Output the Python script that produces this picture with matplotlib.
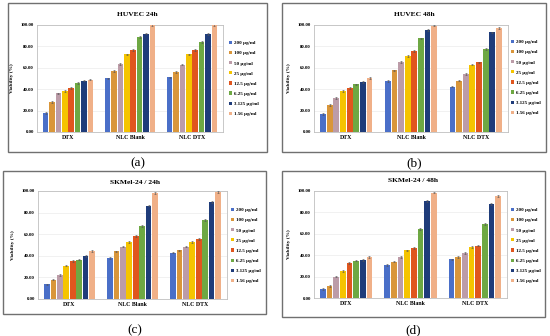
import matplotlib
matplotlib.use("Agg")
import matplotlib.pyplot as plt
import numpy as np
from matplotlib.patches import Rectangle

groups = ["DTX", "NLC Blank", "NLC DTX"]
series = ["200 µg/ml", "100 µg/ml", "50 µg/ml", "25 µg/ml",
          "12.5 µg/ml", "6.25 µg/ml", "3.125 µg/ml", "1.56 µg/ml"]
colors = ["#4A6FC8", "#D9963A", "#BC9CA8", "#F5C400",
          "#E0561E", "#6EA843", "#1F3C7A", "#F0B088"]

huvec24 = [
    [18, 28, 36, 38, 41, 45.5, 48, 49],
    [50, 57, 63.5, 72.5, 76.5, 89, 92, 100],
    [51, 56, 63, 72.5, 76.5, 84, 91.5, 100],
]
huvec48 = [
    [16.5, 25.5, 32, 38, 41, 44.5, 47, 50.5],
    [47.5, 57.5, 65.5, 71, 75.5, 87.5, 95, 99.5],
    [42.5, 48, 54, 63, 65, 77.5, 93, 97],
]
skmel24 = [
    [13.5, 18, 22, 31, 35.5, 36.5, 40, 44.5],
    [38, 44, 48.5, 52.5, 58, 67.5, 86.5, 98],
    [43, 45, 48.5, 52.5, 55.5, 73, 89.5, 99],
]
skmel48 = [
    [8.5, 11.5, 20, 25, 33, 35, 35.5, 38.5],
    [31, 34, 38, 44.5, 47, 64.5, 90.5, 98.5],
    [36, 38.5, 42, 47.5, 49, 69, 88, 95.5],
]
titles = ["HUVEC 24h", "HUVEC 48h", "SKMel-24 / 24h", "SKMel-24 / 48h"]
panel_labels = ["(a)", "(b)", "(c)", "(d)"]
yticks = [0, 20, 40, 60, 80, 100]

W, H = 550, 336
fig = plt.figure(figsize=(W / 100, H / 100), dpi=100)
fig.patch.set_facecolor("white")

def fx(x):
    return x / W

def fy(y):
    return 1 - y / H

serif = "Liberation Serif"

panels = [
    dict(data=huvec24, box=(8, 3, 267, 152), plot=(37, 25, 223, 132), leg=(229, 41), title_y=14, lab_y=163),
    dict(data=huvec48, box=(282, 3, 546, 152), plot=(314, 25, 508, 132), leg=(511, 40), title_y=14, lab_y=163),
    dict(data=skmel24, box=(3, 171, 266, 314), plot=(38, 191, 227, 299), leg=(231, 208), title_y=182, lab_y=330),
    dict(data=skmel48, box=(282, 171, 545, 317), plot=(314, 191, 507, 298), leg=(511, 208), title_y=181, lab_y=330),
]

pitch = 0.103
width = 0.088
x = np.arange(len(groups))

for i, p in enumerate(panels):
    bx0, by0, bx1, by1 = p["box"]
    fig.patches.append(Rectangle((fx(bx0), fy(by1)), (bx1 - bx0) / W, (by1 - by0) / H,
                                 transform=fig.transFigure, fill=False,
                                 edgecolor="#707070", linewidth=1.0))
    px0, py0, px1, py1 = p["plot"]
    ax = fig.add_axes([fx(px0), fy(py1), (px1 - px0) / W, (py1 - py0) / H])
    data = np.array(p["data"])
    handles = []
    for k in range(len(series)):
        off = (k - 3.5) * pitch
        b = ax.bar(x + off, data[:, k], width=width, color=colors[k],
                   yerr=0.8, error_kw=dict(elinewidth=0.4, capsize=0.8, capthick=0.4, ecolor="#555555"),
                   label=series[k], zorder=3)
        handles.append(b)
    ax.set_xlim(-0.5, 2.5)
    ax.set_ylim(0, 100)
    ax.set_yticks(yticks)
    ax.set_yticklabels([f"{v:.2f}" for v in yticks], fontsize=3.5, fontweight="bold", family=serif)
    ax.set_xticks(x)
    ax.set_xticklabels(groups, fontsize=4.2, fontweight="bold", family=serif)
    ax.tick_params(length=0, pad=2.2)
    ax.grid(axis="y", color="#E6E6E6", linewidth=0.4, zorder=0)
    for s in ax.spines.values():
        s.set_color("#BFBFBF")
        s.set_linewidth(0.6)
    ax.set_ylabel("Viability (%)", fontsize=3.8, fontweight="bold", family=serif, labelpad=4.5)
    fig.text(fx((bx0 + bx1) / 2), fy(p["title_y"]), titles[i], ha="center", va="center",
             fontsize=5.4, fontweight="bold", family=serif)
    fig.text(fx((bx0 + bx1) / 2), fy(p["lab_y"]), panel_labels[i], ha="center", va="center",
             fontsize=9.5, family=serif)
    lx, ly = p["leg"]
    ax.legend(handles=handles, loc="upper left", bbox_to_anchor=(fx(lx), fy(ly)),
              bbox_transform=fig.transFigure, frameon=False,
              prop=dict(family=serif, weight="bold", size=3.6),
              handlelength=0.6, handleheight=0.6, handletextpad=0.5, labelspacing=1.15,
              borderpad=0, borderaxespad=0)

fig.savefig("out.png", dpi=100)
